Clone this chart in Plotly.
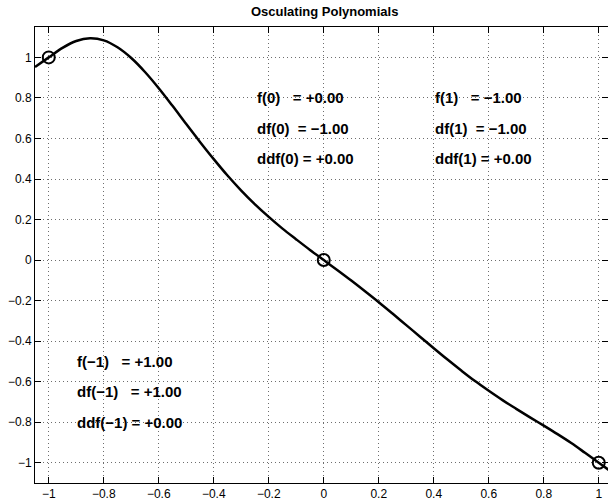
import plotly.graph_objects as go

# Curve values
x_vals = [-1.05, -1.0, -0.95, -0.9, -0.85, -0.8, -0.75, -0.7, -0.65, -0.6, -0.55, -0.5,
          -0.45, -0.4, -0.35, -0.3, -0.25, -0.2, -0.15, -0.1, -0.05, 0.0, 0.05, 0.1,
          0.15, 0.2, 0.25, 0.3, 0.35, 0.4, 0.45, 0.5, 0.55, 0.6, 0.65, 0.7, 0.75,
          0.8, 0.85, 0.9, 0.95, 1.0, 1.05]
y_vals = [0.953, 1.0, 1.047, 1.081, 1.094, 1.084, 1.050, 0.997, 0.928, 0.848, 0.761, 0.671,
          0.583, 0.498, 0.417, 0.343, 0.275, 0.213, 0.155, 0.102, 0.050, 0.0, -0.050, -0.101,
          -0.154, -0.208, -0.264, -0.321, -0.378, -0.435, -0.491, -0.545, -0.597, -0.645,
          -0.691, -0.734, -0.776, -0.817, -0.859, -0.903, -0.951, -1.0, -1.049]

# Interpolation nodes
node_x = [-1.0, 0.0, 1.0]
node_y = [1.0, 0.0, -1.0]

# Text labels and values
labels_0 = ["f(0)", "df(0)", "ddf(0)"]
values_0 = [0.0, -1.0, 0.0]
labels_1 = ["f(1)", "df(1)", "ddf(1)"]
values_1 = [-1.0, -1.0, 0.0]
labels_m1 = ["f(\u22121)", "df(\u22121)", "ddf(\u22121)"]
values_m1 = [1.0, 1.0, 0.0]

x_ticks = [-1, -0.8, -0.6, -0.4, -0.2, 0, 0.2, 0.4, 0.6, 0.8, 1]
x_ticktext = ["\u22121", "\u22120.8", "\u22120.6", "\u22120.4", "\u22120.2", "0",
              "0.2", "0.4", "0.6", "0.8", "1"]
y_ticks = [-1, -0.8, -0.6, -0.4, -0.2, 0, 0.2, 0.4, 0.6, 0.8, 1]
y_ticktext = ["\u22121", "\u22120.8", "\u22120.6", "\u22120.4", "\u22120.2", "0",
              "0.2", "0.4", "0.6", "0.8", "1"]


def fmt(v):
    s = "%+.2f" % v
    return s.replace("-", "\u2212")


fig = go.Figure()
fig.add_trace(go.Scatter(x=x_vals, y=y_vals, mode="lines",
                         line=dict(color="black", width=2.5, shape="spline"),
                         hoverinfo="skip", showlegend=False))
fig.add_trace(go.Scatter(x=node_x, y=node_y, mode="markers",
                         marker=dict(symbol="circle-open", size=12, color="black",
                                     line=dict(width=2, color="black")),
                         showlegend=False))

FONT = "Liberation Sans, Arial, Helvetica, sans-serif"
tfont = dict(family=FONT, size=15, color="black", weight="bold")
NB = "\u00a0"

groups = [
    (labels_0, values_0, -0.247, [0.8, 0.65, 0.5], [3, 2, 1]),
    (labels_1, values_1, 0.400, [0.8, 0.65, 0.5], [3, 2, 1]),
    (labels_m1, values_m1, -0.902, [-0.5, -0.65, -0.8], [3, 3, 1]),
]
for labs, vals, lx, ys, pads in groups:
    for lab, val, p, yy in zip(labs, vals, pads, ys):
        fig.add_annotation(x=lx, y=yy, xref="x", yref="y",
                           text=lab + NB * p + "=" + NB + fmt(val), showarrow=False,
                           xanchor="left", yanchor="middle", font=tfont, borderpad=0)

fig.add_annotation(x=(324 - 35) / 573, y=1 + (27 - 12) / 456, xref="paper", yref="paper",
                   text="Osculating Polynomials", showarrow=False,
                   xanchor="center", yanchor="middle",
                   font=dict(family=FONT, size=13, color="black", weight="bold"))

axis_common = dict(showline=True, linecolor="black", linewidth=1, mirror="ticks",
                   ticks="inside", ticklen=6, tickcolor="black", tickwidth=1,
                   showgrid=True, gridcolor="rgb(110,110,110)", gridwidth=1,
                   griddash="1px,3px", zeroline=False,
                   tickfont=dict(family=FONT, size=12, color="black"))

fig.update_xaxes(range=[-1.05, 1.0336], tickvals=x_ticks, ticktext=x_ticktext, **axis_common)
fig.update_yaxes(range=[-1.1, 1.15], tickvals=y_ticks, ticktext=y_ticktext, **axis_common)

fig.update_layout(width=608, height=500, margin=dict(l=35, r=0, t=27, b=17, pad=0),
                  plot_bgcolor="white", paper_bgcolor="white")

fig.write_html("out.html")
